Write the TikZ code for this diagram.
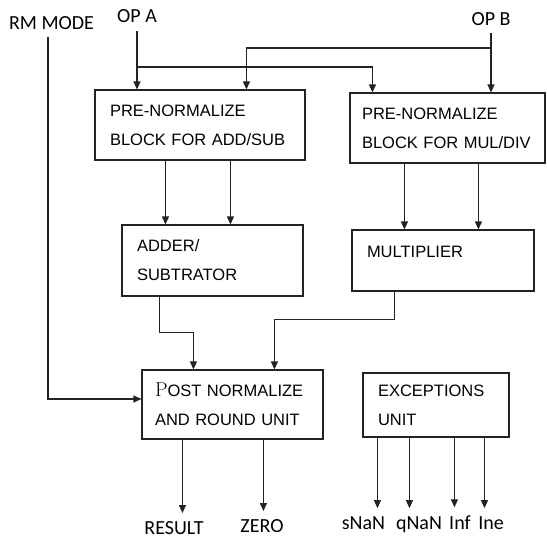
\documentclass[tikz,border=0pt]{standalone}
\usepackage{fontspec}
\usepackage{tikz}
\usetikzlibrary{arrows.meta}
\newfontfamily\labelfont{Carlito}
\newfontfamily\blockfont{Liberation Sans}
\definecolor{wire}{RGB}{35, 35, 35}
\tikzset{
  unitblock/.style={
    rectangle, draw=wire, line width=1.1pt,
    align=left, inner xsep=15pt, inner ysep=0pt,
    font=\blockfont\fontsize{16.5}{29}\selectfont
  },
  portlabel/.style={
    anchor=base, inner sep=0pt, outer sep=8pt,
    font=\labelfont\fontsize{20}{24}\selectfont
  },
  flowline/.style={
    draw=wire, line width=1.1pt, -{Triangle[length=8pt, width=7pt]}
  }
}

\begin{document}
\begin{tikzpicture}[x=1pt, y=-1pt]
  \useasboundingbox (0,0) rectangle (547,538);

  % Inputs
  \node[portlabel] (rmmode) at (51.5,29) {RM MODE};
  \node[portlabel] (opa) at (137,23) {OP A};
  \node[portlabel] (opb) at (491,25) {OP B};

  % Row 1: pre-normalize blocks
  \node[unitblock, text width=180pt, minimum height=70pt] (prenormadd) at (200,125) {PRE-NORMALIZE\\BLOCK FOR ADD/SUB};
  \node[unitblock, text width=171pt, inner xsep=12pt, minimum height=70pt] (prenormmul) at (447.5,128) {PRE-NORMALIZE\\\mbox{BLOCK FOR MUL/DIV}};

  % Row 2: arithmetic units
  \node[unitblock, text width=151pt, minimum height=71pt] (adder) at (212.5,260.5) {ADDER/\\SUBTRATOR};
  \node[unitblock, text width=152pt, minimum height=61pt, text depth=18pt] (multiplier) at (443,260.5) {MULTIPLIER};

  % Row 3: post normalize and exceptions
  \node[unitblock, text width=155pt, minimum height=69pt, inner xsep=13pt] (postnorm) at (232.5,404.5) {{\rmfamily\fontsize{20}{20}\selectfont P}OST NORMALIZE\\AND ROUND UNIT};
  \node[unitblock, text width=116pt, minimum height=64pt] (exceptions) at (436,405) {EXCEPTIONS\\UNIT};

  % Outputs
  \node[portlabel] (result) at (174,534) {RESULT};
  \node[portlabel] (zero) at (262,532) {ZERO};
  \node[portlabel] (snan) at (363.5,529) {sNaN};
  \node[portlabel] (qnan) at (419,529) {qNaN};
  \node[portlabel] (inf) at (460,529) {Inf};
  \node[portlabel] (ine) at (491,529) {Ine};

  % Operand wiring
  \draw[flowline] (opa.south) -- (opa.south |- prenormadd.north);
  \draw[flowline] (opa.south |- 0,67) -| ([xshift=23pt]prenormmul.north west);
  \draw[flowline] (opb.south) -- (opb.south |- prenormmul.north);
  \draw[flowline] (opb.south |- 0,48) -| ([xshift=152pt]prenormadd.north west);

  % Pre-normalize to arithmetic units
  \foreach \dx in {71,136}
    \draw[flowline] ([xshift=\dx pt]prenormadd.south west) coordinate (addin) -- (addin |- adder.north);
  \foreach \dx in {55,129}
    \draw[flowline] ([xshift=\dx pt]prenormmul.south west) coordinate (mulin) -- (mulin |- multiplier.north);

  % Arithmetic units to post normalize
  \draw[flowline] ([xshift=38pt]adder.south west) -- ++(0,36) -| ([xshift=52pt]postnorm.north west);
  \draw[flowline] ([xshift=43pt]multiplier.south west) -- ++(0,28) -| ([xshift=133pt]postnorm.north west);
  \draw[flowline] ([xshift=-3.5pt]rmmode.south) |- ([yshift=5.5pt]postnorm.west);

  % Result flags
  \draw[flowline] ([xshift=41pt]postnorm.south west) coordinate (ressrc) -- (ressrc |- result.north);
  \draw[flowline] ([xshift=122pt]postnorm.south west) coordinate (zerosrc) -- (zerosrc |- zero.north);
  \foreach \dx/\port in {15/snan, 47/qnan, 92/inf, 122/ine}
    \draw[flowline] ([xshift=\dx pt]exceptions.south west) coordinate (\port src) -- (\port src |- \port.north);
\end{tikzpicture}
\end{document}
